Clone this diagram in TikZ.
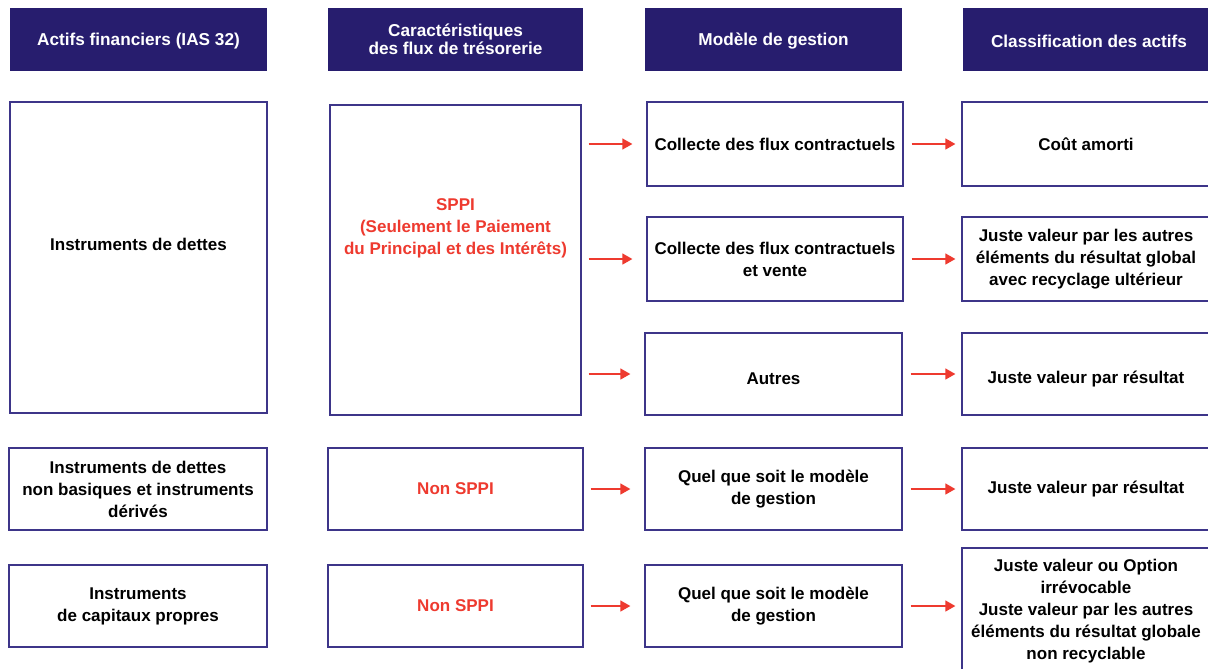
\documentclass[tikz,border=0pt]{standalone}
\usepackage{fontspec}
\setmainfont{Liberation Sans}
\usetikzlibrary{arrows.meta}
\definecolor{navy}{HTML}{271D6E}
\definecolor{edge}{HTML}{3D3589}
\definecolor{accent}{HTML}{EE3A2F}
\tikzset{
  hdr/.style={fill=navy, draw=none, text=white, align=center, inner sep=0pt,
    font=\bfseries\fontsize{17.2}{17.5}\selectfont},
  hdrtxt/.style={text=white, align=center, inner sep=0pt,
    font=\bfseries\fontsize{17.2}{17.5}\selectfont},
  box/.style={draw=edge, line width=1.3pt, fill=white, align=center, inner sep=0pt,
    font=\bfseries\fontsize{17}{22}\selectfont},
  txt/.style={align=center, inner sep=0pt, font=\bfseries\fontsize{17}{22}\selectfont},
  redtxt/.style={txt, text=accent},
  arr/.style={draw=accent, line width=1.4pt, -{Triangle[length=10pt,width=11pt]}},
  arrL/.style={arr, shorten <=7pt, shorten >=14pt},
  arrR/.style={arr, shorten <=8pt, shorten >=6pt}
}
\begin{document}
\begin{tikzpicture}[x=1pt,y=-1pt]
\useasboundingbox[fill=white] (0,0) rectangle (1208,669);
\begin{scope}
\clip (0,0) rectangle (1208,669);
% headers
\node[hdr, minimum width=257pt, minimum height=63pt] (h1) at (138.5,39.5) {};
\node[hdrtxt] (h1t) at (138.5,41) {Actifs financiers (IAS 32)};
\node[hdr, minimum width=255pt, minimum height=63pt] (h2) at (455.5,39.5) {};
\node[hdrtxt] (h2t) at (455.5,39.5) {Caractéristiques\\des flux de trésorerie};
\node[hdr, minimum width=257pt, minimum height=63pt] (h3) at (773.5,39.5) {};
\node[hdrtxt] (h3t) at (773.5,41) {Modèle de gestion};
\node[hdr, minimum width=249pt, minimum height=63pt] (h4) at (1087.5,39.5) {};
\node[hdrtxt] (h4t) at (1089,41) {Classification des actifs};
% column 1
\node[box, minimum width=257pt, minimum height=311pt] (a1) at (138.5,257.5) {};
\node[txt] (a1t) at (138.5,244) {Instruments de dettes};
\node[box, minimum width=258pt, minimum height=82pt] (a4) at (138,489) {Instruments de dettes\\non basiques et instruments\\dérivés};
\node[box, minimum width=258pt, minimum height=82pt] (a5) at (138,606) {Instruments\\de capitaux propres};
% column 2
\node[box, minimum width=251pt, minimum height=310pt] (b1) at (455.5,260) {};
\node[redtxt] (b1t) at (455.5,228) {SPPI\\(Seulement le Paiement\\du Principal et des Intérêts)};
\node[box, minimum width=255pt, minimum height=82pt, text=accent] (b4) at (455.5,489) {Non SPPI};
\node[box, minimum width=255pt, minimum height=82pt, text=accent] (b5) at (455.5,606) {Non SPPI};
% column 3
\node[box, minimum width=256pt, minimum height=84pt] (c1) at (775,144) {Collecte des flux contractuels};
\node[box, minimum width=256pt, minimum height=84pt] (c2) at (775,259) {Collecte des flux contractuels\\et vente};
\node[box, minimum width=257pt, minimum height=82pt] (c3) at (773.5,374) {};
\node[txt] (c3t) at (773.5,379) {Autres};
\node[box, minimum width=257pt, minimum height=82pt] (c4) at (773.5,489) {Quel que soit le modèle\\de gestion};
\node[box, minimum width=257pt, minimum height=82pt] (c5) at (773.5,606) {Quel que soit le modèle\\de gestion};
% column 4
\node[box, minimum width=248pt, minimum height=84pt] (d1) at (1086,144) {Coût amorti};
\node[box, minimum width=248pt, minimum height=84pt] (d2) at (1086,259) {Juste valeur par les autres\\éléments du résultat global\\avec recyclage ultérieur};
\node[box, minimum width=248pt, minimum height=82pt] (d3) at (1086,374) {};
\node[txt] (d3t) at (1086,379) {Juste valeur par résultat};
\node[box, minimum width=248pt, minimum height=82pt] (d4) at (1086,489) {Juste valeur par résultat};
\node[box, minimum width=248pt, minimum height=126pt] (d5) at (1086,611) {Juste valeur ou Option\\irrévocable\\Juste valeur par les autres\\éléments du résultat globale\\non recyclable};
\end{scope}
% arrows column 2 -> 3
\draw[arrL] (b1.east |- c1.west) -- (c1.west);
\draw[arrL] (b1.east |- c2.west) -- (c2.west);
\draw[arrL] (b1.east |- c3.west) -- (c3.west);
\draw[arrL] (b4.east) -- (c4.west);
\draw[arrL] (b5.east) -- (c5.west);
% arrows column 3 -> 4
\draw[arrR] (c1.east) -- (d1.west |- c1.east);
\draw[arrR] (c2.east) -- (d2.west |- c2.east);
\draw[arrR] (c3.east) -- (d3.west |- c3.east);
\draw[arrR] (c4.east) -- (d4.west |- c4.east);
\draw[arrR] (c5.east) -- (d5.west |- c5.east);
\end{tikzpicture}
\end{document}
